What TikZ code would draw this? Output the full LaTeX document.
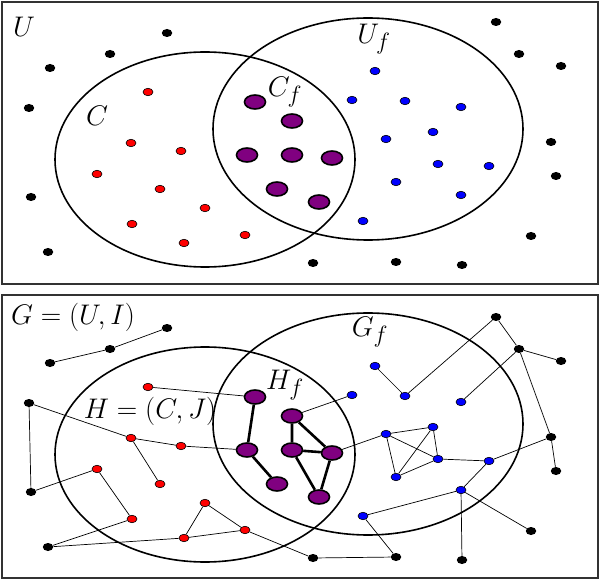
\documentclass[tikz,border=0pt]{standalone}
\usepackage{graphicx}
\usetikzlibrary{shapes.geometric,backgrounds}
\definecolor{pur}{RGB}{128,0,128}
\definecolor{framegray}{RGB}{50,50,50}
\newcommand\mylab[1]{\scalebox{1.14}{$#1$}}
\tikzset{
  blk/.style={ellipse, fill=black, minimum width=10.5pt, minimum height=8pt, inner sep=0pt},
  rdot/.style={ellipse, draw=black, line width=0.6pt, fill=red, minimum width=10pt, minimum height=7.5pt, inner sep=0pt},
  bdot/.style={ellipse, draw=black, line width=0.6pt, fill=blue, minimum width=10pt, minimum height=7.5pt, inner sep=0pt},
  pdot/.style={ellipse, draw=black, line width=1.6pt, fill=pur, minimum width=21pt, minimum height=14pt, inner sep=0pt},
  edge/.style={line width=0.7pt},
  pedge/.style={line width=2.6pt},
  setline/.style={line width=1.6pt},
  panel/.style={draw=framegray, line width=2pt},
  lbl/.style={inner sep=0pt, font=\Huge},
}
\newcommand\mydots[1]{%
  \foreach \n/\x/\y in {1/167/33,2/110/54,3/50/68,4/29/108,5/31/197,6/48/252,7/496/22,8/519/54,9/561/66,10/551/142,11/556/176,12/531/236,13/313/263,14/396/262,15/462/265}
    \node[blk] (#1k\n) at (\x,\y) {};
  \foreach \n/\x/\y in {1/148/92,2/131/143,3/181/151,4/97/174,5/160/189,6/205/208,7/132/224,8/184/243,9/245/235}
    \node[rdot] (#1r\n) at (\x,\y) {};
  \foreach \n/\x/\y in {1/375/71,2/352/100,3/405/101,4/461/107,5/386/139,6/433/132,7/438/164,8/489/166,9/396/182,10/461/195,11/363/221}
    \node[bdot] (#1b\n) at (\x,\y) {};
  \foreach \n/\x/\y in {1/255/102,2/292/121,3/247/155,4/292/155,5/332/158,6/277/189,7/319/202}
    \node[pdot] (#1p\n) at (\x,\y) {};
}
\begin{document}
\begin{tikzpicture}[x=1pt,y=-1pt]
\useasboundingbox (0,0) rectangle (600,580);
% ---------- top panel ----------
\draw[panel] (2,2) rectangle (598,284);
\draw[setline] (205,159.5) ellipse [x radius=150, y radius=107.5];
\draw[setline] (368,129) ellipse [x radius=155, y radius=111];
\node[lbl] (lU) at (24,27) {\mylab{U}};
\node[lbl] (lC) at (97,116) {\mylab{C}};
\node[lbl] (lCf) at (285,92) {\mylab{C_f}};
\node[lbl] (lUf) at (374,39) {\mylab{U_f}};
\mydots{u}
% ---------- bottom panel ----------
\begin{scope}[yshift=-295pt]
\draw[panel] (2,0) rectangle (598,283);
\draw[setline] (205,159.5) ellipse [x radius=150, y radius=107.5];
\draw[setline] (368,129) ellipse [x radius=155, y radius=111];
\node[lbl] (lG) at (73,22) {\mylab{G=(U,I)}};
\node[lbl] (lH) at (150,116) {\mylab{H=(C,J)}};
\node[lbl] (lHf) at (285,90) {\mylab{H_f}};
\node[lbl] (lGf) at (370,37) {\mylab{G_f}};
\mydots{g}
\begin{pgfonlayer}{background}
\draw[edge] (gk3) -- (gk2) -- (gk1);
\draw[edge] (gr1) -- (gp1);
\draw[edge] (gk4) -- (gr2) -- (gr3) -- (gp3);
\draw[edge] (gr2) -- (gr5);
\draw[edge] (gk4) -- (gk5) -- (gr4) -- (gr7) -- (gk6) -- (gr8) -- (gr6) -- (gr9) -- (gr8);
\draw[edge] (gr9) -- (gk13) -- (gk14) -- (gb11) -- (gb10) -- (gk15);
\draw[edge] (gb10) -- (gk12);
\draw[edge] (gb10) -- (gb8) -- (gb7);
\draw[edge] (gb8) -- (gk10) -- (gk11);
\draw[edge] (gk10) -- (gk8) -- (gk7) -- (gb3) -- (gb1);
\draw[edge] (gk8) -- (gk9);
\draw[edge] (gk8) -- (gb4);
\draw[edge] (gp2) -- (gb2);
\draw[edge] (gp5) -- (gb5) -- (gb6) -- (gb7) -- (gb9) -- (gb5) -- (gb7);
\draw[edge] (gb6) -- (gb9);
\draw[pedge] (gp1) -- (gp3) -- (gp6);
\draw[pedge] (gp2) -- (gp4) -- (gp7) -- (gp5) -- (gp2);
\draw[pedge] (gp4) -- (gp5);
\end{pgfonlayer}
\end{scope}
\end{tikzpicture}
\end{document}
